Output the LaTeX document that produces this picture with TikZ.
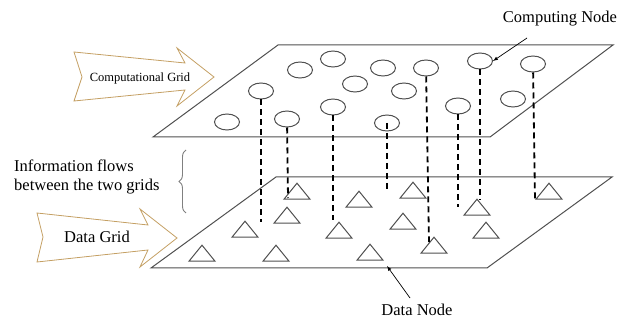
\documentclass[tikz,border=0pt]{standalone}
\usepackage{fontspec}
\setmainfont{Liberation Serif}
\usetikzlibrary{shapes.geometric,decorations.pathreplacing,arrows}
\definecolor{arrowtan}{RGB}{196,160,100}
\definecolor{planegray}{RGB}{80,80,80}
\begin{document}
\begin{tikzpicture}[x=1pt,y=-1pt,
    compnode/.style={draw=planegray,ellipse,minimum width=25pt,minimum height=16pt,inner sep=0pt,line width=1pt},
    datanode/.style={draw=planegray,isosceles triangle,isosceles triangle stretches,shape border rotate=90,
      minimum width=26pt,minimum height=16pt,inner sep=0pt,line width=1pt},
    flow/.style={line width=1.8pt,dash pattern=on 6pt off 4pt},
    lbl/.style={font=\fontsize{16.5}{19}\selectfont,inner sep=0pt}]
      \useasboundingbox (0,0) rectangle (619,320);
      \draw[planegray,line width=1pt] (153,137) -- (490,137) -- (613,45) -- (278,45) -- cycle;
      \draw[planegray,line width=1pt] (151,268) -- (487,268) -- (612,177) -- (276,177) -- cycle;
      \draw[arrowtan,line width=0.8pt] (74,52) -- (185,63) -- (177,48) -- (214,77) -- (177,106)
        -- (185,90) -- (74,101) -- (82,77) -- cycle;
      \draw[arrowtan,line width=0.8pt] (37,213) -- (148,225) -- (140,209) -- (177,238) -- (140,267)
        -- (148,250) -- (37,262) -- (43,237) -- cycle;
      \draw
        (300,70) node[compnode] (c1){}
        (333,59) node[compnode] (c2){}
        (383,68) node[compnode] (c3){}
        (426,68) node[compnode] (c4){}
        (480,61) node[compnode] (c5){}
        (533,64) node[compnode] (c6){}
        (261,91) node[compnode] (c7){}
        (355,84) node[compnode] (c8){}
        (404,91) node[compnode] (c9){}
        (513,99) node[compnode] (c10){}
        (227,122) node[compnode] (c11){}
        (287,119) node[compnode] (c12){}
        (333,107) node[compnode] (c13){}
        (458,106) node[compnode] (c14){}
        (387,123) node[compnode] (c15){};
      \draw
        (297,193) node[datanode] (t1){}
        (287,217) node[datanode] (t2){}
        (245,231) node[datanode] (t3){}
        (202,255) node[datanode] (t4){}
        (276,255) node[datanode] (t5){}
        (359,201) node[datanode] (t6){}
        (413,192) node[datanode] (t7){}
        (549,193) node[datanode] (t8){}
        (477,209) node[datanode] (t9){}
        (339,232) node[datanode] (t10){}
        (403,223) node[datanode] (t11){}
        (486,232) node[datanode] (t12){}
        (434,247) node[datanode] (t13){}
        (370,254) node[datanode] (t14){};
      \coordinate (e7) at (261,222);
      \coordinate (e12) at (288,198);
      \coordinate (e13) at (333,220);
      \coordinate (e15) at (387,192);
      \coordinate (e4) at (429,242);
      \coordinate (e14) at (458,207);
      \coordinate (e5) at (480,200);
      \coordinate (e6) at (535,200);
      \begin{scope}[flow]
        \draw (c7) to (e7);
        \draw (c12) to (e12);
        \draw (c13) to (e13);
        \draw (c15.center) to (e15);
        \draw (c4) to (e4);
        \draw (c14) to (e14);
        \draw (c5) to (e5);
        \draw (c6) to (e6);
      \end{scope}
      \node[lbl] (cn) at (560,19) {Computing Node};
      \node[lbl] (dn) at (417,310) {Data Node};
      \node[lbl,font=\fontsize{12.5}{14}\selectfont] (cg) at (140,78) {Computational Grid};
      \node[lbl] (dg) at (97,237) {Data Grid};
      \node[lbl,anchor=west,align=left] (info) at (14,177) {Information flows\\between the two grids};
      \coordinate (cnfoot) at (527,38);
      \coordinate (dnfoot) at (410,298);
      \coordinate (dntip) at (387,266);
      \draw[-latex,line width=0.7pt] (cnfoot) -- (c5.east);
      \draw[-latex,line width=0.7pt] (dnfoot) -- (dntip);
      \draw[gray,line width=0.9pt,decorate,decoration={brace,amplitude=7pt}] (186,213) -- (186,150);
    \end{tikzpicture}
\end{document}
